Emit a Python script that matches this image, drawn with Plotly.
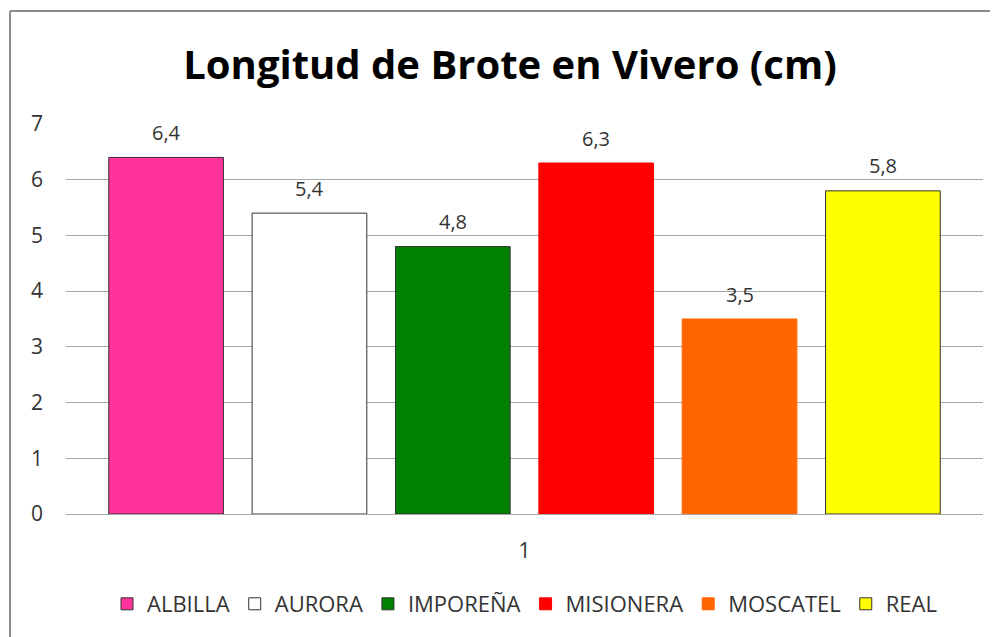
import plotly.graph_objects as go

categories = ["1"]
series_names = ["ALBILLA", "AURORA", "IMPOREÑA", "MISIONERA", "MOSCATEL", "REAL"]
series_values = [6.4, 5.4, 4.8, 6.3, 3.5, 5.8]
fill_colors = ["#FF3399", "#FFFFFF", "#008000", "#FF0000", "#FF6600", "#FFFF00"]
line_colors = ["#333333", "#333333", "#333333", "#FF0000", "#FF6600", "#333333"]
y_ticks = [0, 1, 2, 3, 4, 5, 6, 7]

FONT = "Open Sans"
TXT = "#333333"
W, H = 990, 629           # page has an 8px body margin
ML, MR, MT, MB = 58, 15, 116, 123
BARGAP = 0.062

fig = go.Figure()
n = len(series_names)
for name, val, fc, lc in zip(series_names, series_values, fill_colors, line_colors):
    fig.add_trace(go.Bar(
        x=categories, y=[val], name=name,
        marker=dict(color=fc, line=dict(color=lc, width=1)),
    ))

# value labels above each bar (positions derived from the bar layout)
gw = 1 - BARGAP
slot = gw / n
annotations = []
for i, val in enumerate(series_values):
    annotations.append(dict(
        x=-gw / 2 + slot * (i + 0.5), y=val, xref="x", yref="y",
        text=f"{val:.1f}".replace(".", ","), showarrow=False,
        yanchor="middle", yshift=25,
        font=dict(family=FONT, size=20, color=TXT),
    ))

pw = W - ML - MR
ph = H - MT - MB
bx0 = (2 - ML) / pw
by1 = 1 + (MT - 3) / ph
fig.update_layout(
    width=W, height=H,
    margin=dict(l=ML, r=MR, t=MT, b=MB, autoexpand=False),
    paper_bgcolor="white", plot_bgcolor="white",
    barmode="group", bargap=BARGAP, bargroupgap=0.2,
    title=dict(text="<b>Longitud de Brote en Vivero (cm)</b>", x=502 / W, xanchor="center",
               y=1 - 57 / H, yanchor="middle",
               font=dict(family=FONT, size=40, color="black")),
    font=dict(family=FONT, size=20, color=TXT),
    showlegend=True,
    legend=dict(orientation="h", x=0.5, xanchor="center", y=-(596 - (H - MB)) / ph, yanchor="middle",
                font=dict(family=FONT, size=22, color=TXT), itemwidth=30, traceorder="normal"),
    xaxis=dict(showgrid=False, showline=False, ticks="", ticklabelstandoff=22,
               tickfont=dict(family=FONT, size=21, color=TXT)),
    yaxis=dict(range=[0, 7], tickvals=y_ticks, showgrid=True, gridcolor="#A6A6A6", gridwidth=1,
               zeroline=True, zerolinecolor="#A6A6A6", zerolinewidth=1, showline=False, ticks="",
               ticklabelstandoff=22, tickfont=dict(family=FONT, size=21, color=TXT)),
    annotations=annotations,
    shapes=[
        dict(type="line", xref="paper", yref="paper", x0=bx0, x1=(W - ML + 20) / pw, y0=by1, y1=by1,
             line=dict(color="#8C8C8C", width=2), layer="below"),
        dict(type="line", xref="paper", yref="paper", x0=bx0, x1=bx0, y0=by1, y1=-(MB + 20) / ph,
             line=dict(color="#8C8C8C", width=2), layer="below"),
    ],
)

fig.write_html("out.html")
